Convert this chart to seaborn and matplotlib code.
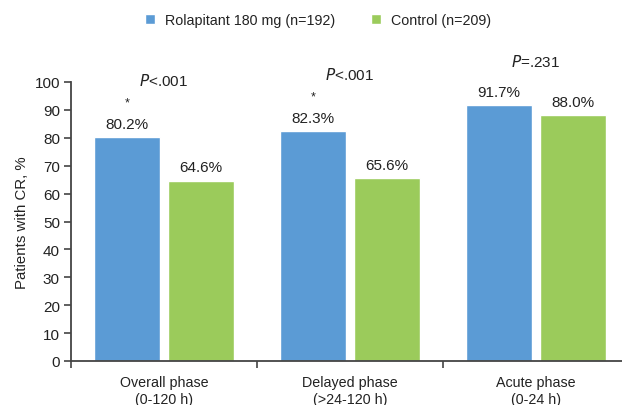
import matplotlib
matplotlib.use("Agg")
import matplotlib.pyplot as plt
import seaborn as sns
import pandas as pd
from matplotlib.ticker import FixedLocator

phases = ["Overall phase\n(0-120 h)", "Delayed phase\n(>24-120 h)", "Acute phase\n(0-24 h)"]
groups = ["Rolapitant 180 mg (n=192)", "Control (n=209)"]
rolapitant = [80.2, 82.3, 91.7]
control = [64.6, 65.6, 88.0]
p_labels = ["P<.001", "P<.001", "P=.231"]
stars = ["*", "*", ""]
colors = ["#5B9BD5", "#9BCB5B"]

df = pd.DataFrame({
    "phase": phases * 2,
    "group": [groups[0]] * 3 + [groups[1]] * 3,
    "value": rolapitant + control,
})

sns.set_style("white")
plt.rcParams["font.family"] = ["Liberation Sans", "DejaVu Sans"]

fig = plt.figure(figsize=(6.22, 4.06), dpi=100)
ax = fig.add_axes([71 / 622, 44 / 406, (622 - 71) / 622, (362 - 83) / 406])

sns.barplot(data=df, x="phase", y="value", hue="group", order=phases,
            hue_order=groups, palette=colors, width=0.8, gap=0.12,
            saturation=1, ax=ax, legend=True)

ax.set_ylim(0, 100)
ax.set_xlim(-0.5, 2.5 - 7 / 186)
ax.set_yticks(range(0, 101, 10))
ax.set_xlabel("")
ax.set_ylabel("Patients with CR, %", fontsize=10.8, color="#222222", labelpad=4)

for s in ["top", "right"]:
    ax.spines[s].set_visible(False)
for s in ["left", "bottom"]:
    ax.spines[s].set_color("#444444")
    ax.spines[s].set_linewidth(1.3)

ax.tick_params(axis="y", which="major", direction="out", length=5, width=1.2,
               color="#444444", labelsize=11, labelcolor="#222222", left=True, pad=3)
ax.tick_params(axis="x", which="major", length=0, labelsize=10.3,
               labelcolor="#222222", pad=10)
ax.xaxis.set_minor_locator(FixedLocator([-0.5, 0.5, 1.5, 2.5]))
ax.tick_params(axis="x", which="minor", direction="out", length=5, width=1.2,
               color="#444444", bottom=True)
for lab in ax.get_xticklabels():
    lab.set_linespacing(1.25)

# value labels
for i in range(3):
    ax.text(i - 0.2, rolapitant[i] + 2.3, f"{rolapitant[i]:.1f}%", ha="center",
            va="bottom", fontsize=11, color="#222222")
    ax.text(i + 0.2, control[i] + 2.3, f"{control[i]:.1f}%", ha="center",
            va="bottom", fontsize=11, color="#222222")
    if stars[i]:
        ax.text(i - 0.2, rolapitant[i] + 10.5, stars[i], ha="center",
                va="bottom", fontsize=9, color="#222222")
    top = max(rolapitant[i], control[i])
    off = 20.5 if stars[i] else 16.0
    ptxt = p_labels[i]
    ax.text(i, top + off, "$\\it{P}$" + ptxt[1:], ha="center", va="center",
            fontsize=11, color="#222222")

sns.move_legend(ax, "center", bbox_to_anchor=(318 / 622, 1 - 21 / 406),
                bbox_transform=fig.transFigure, ncol=2, frameon=False,
                title=None, fontsize=10.3, handlelength=0.7, handleheight=0.7,
                handletextpad=0.7, columnspacing=2.5)
leg = ax.get_legend()
for t in leg.get_texts():
    t.set_color("#222222")

fig.savefig("out.png", dpi=100)
